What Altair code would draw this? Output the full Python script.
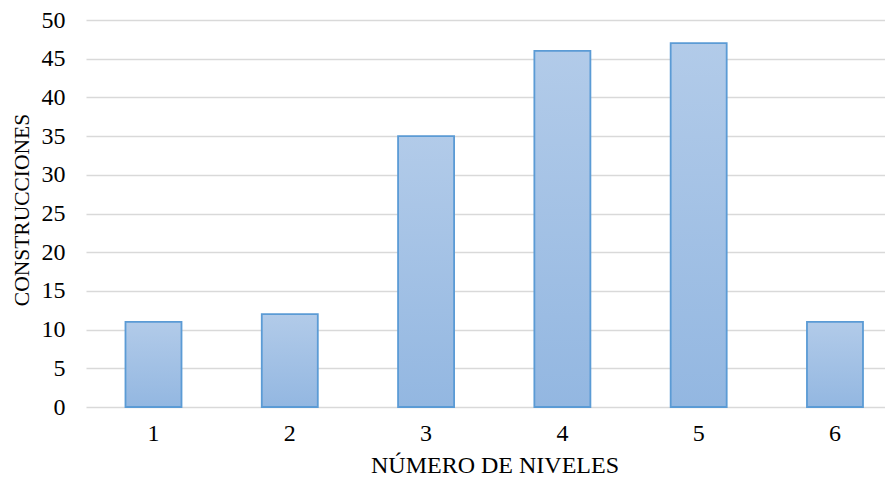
import altair as alt
import pandas as pd

niveles = ["1", "2", "3", "4", "5", "6"]
construcciones = [11, 12, 35, 46, 47, 11]
y_ticks = [0, 5, 10, 15, 20, 25, 30, 35, 40, 45, 50]

df = pd.DataFrame({"nivel": niveles, "n": construcciones})

FONT = "Liberation Serif"

grad = alt.Gradient(
    gradient="linear",
    stops=[alt.GradientStop(color="#b2cbe9", offset=0),
           alt.GradientStop(color="#93b7e1", offset=1)],
    x1=0, x2=0, y1=0, y2=1,
)

chart = alt.Chart(df).mark_bar(
    color=grad, stroke="#5b9bd5", strokeWidth=1.8
).encode(
    x=alt.X("nivel:N", sort=niveles,
            scale=alt.Scale(paddingInner=0.589, paddingOuter=0.2256, align=0.642),
            axis=alt.Axis(title="NÚMERO DE NIVELES", labelAngle=0, ticks=False, tickSize=0,
                          domain=False, labelPadding=14, titleFontSize=24,
                          titleX=408.5, titleY=65, titleBaseline="alphabetic")),
    y=alt.Y("n:Q", scale=alt.Scale(domain=[0, 50], nice=False),
            axis=alt.Axis(title="CONSTRUCCIONES", values=y_ticks, ticks=False, tickSize=0,
                          domain=False, labelPadding=21, titleFontSize=21.5,
                          titleX=-58, titleY=189.5, titleAngle=-90,
                          titleBaseline="alphabetic", titleAlign="center",
                          gridColor="#d9d9d9", gridWidth=1.5)),
).properties(
    width=799, height=387,
    autosize=alt.AutoSizeParams(type="none"),
    padding={"left": 78, "top": 12, "right": 0, "bottom": 70},
).configure_axis(
    labelFont=FONT, titleFont=FONT, labelFontSize=24,
    labelColor="#000000", titleColor="#000000", titleFontWeight="normal",
).configure_view(stroke=None)

chart.save("out.html", embed_options={"renderer": "svg", "actions": False})
